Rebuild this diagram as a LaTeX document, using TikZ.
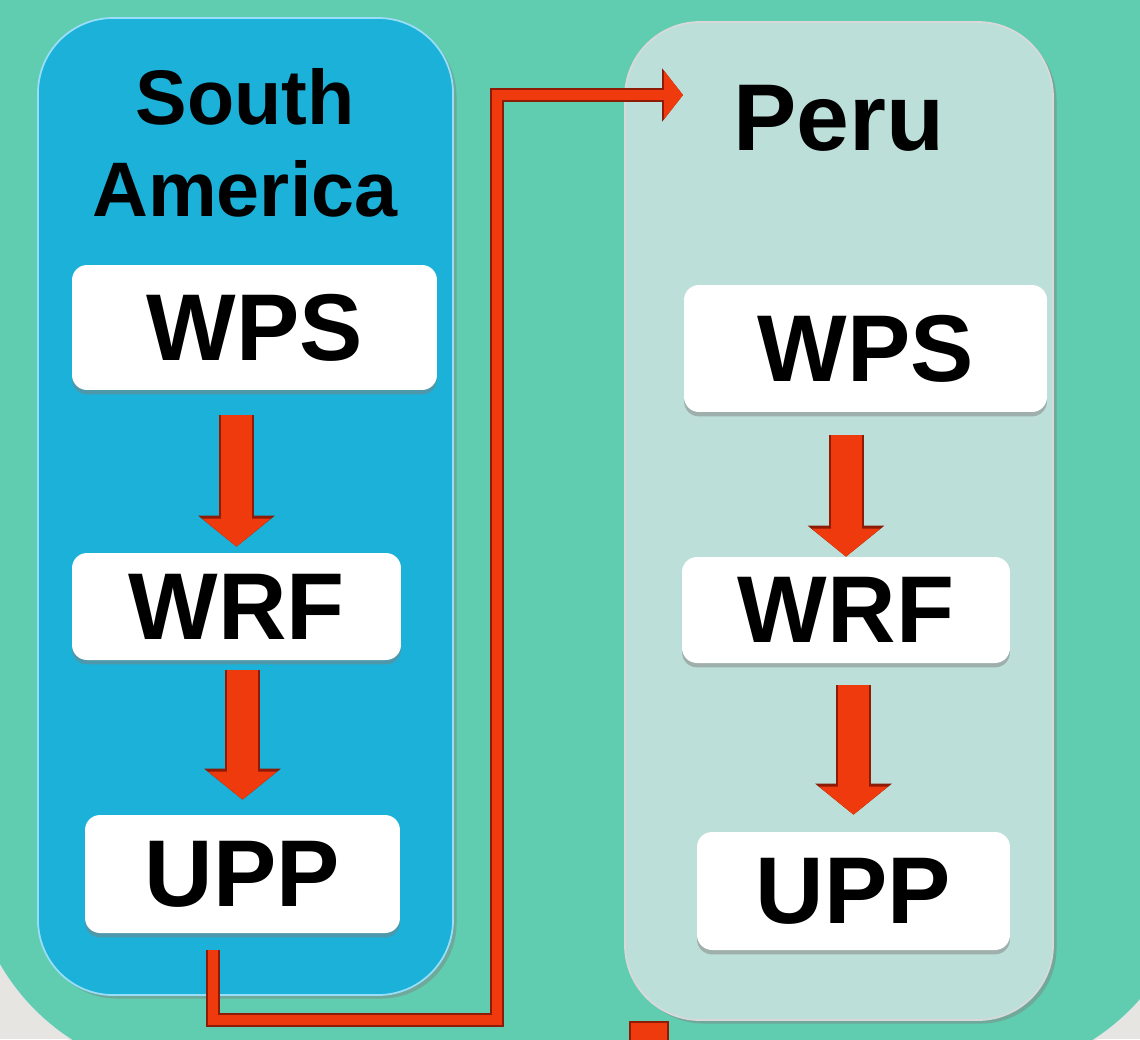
\documentclass[tikz,border=0pt]{standalone}
\usepackage{fontspec}
\setmainfont{Liberation Sans}
\usepackage{tikz}
\usetikzlibrary{arrows.meta}
\usetikzlibrary{shadows}

\definecolor{fondo}{HTML}{60CCB0}
\definecolor{exterior}{HTML}{E7E5E2}
\definecolor{azulSA}{HTML}{1BB1D8}
\definecolor{verdePE}{HTML}{BDDFD9}
\definecolor{rojo}{HTML}{EE3A0C}
\definecolor{rojoOscuro}{HTML}{8E1B05}

\begin{document}
\begin{tikzpicture}[
    x=0.02cm, y=-0.02cm,
    >=Latex,
    % Estilo para los paneles de cada dominio
    Panel/.style={
        rounded corners=1.5cm,
        drop shadow={shadow xshift=2pt, shadow yshift=-2pt, opacity=0.45}
    },
    % Estilo para las cajas de los programas (blancas con sombra)
    Caja/.style={
        fill=white,
        rounded corners=0.3cm,
        inner sep=0pt,
        font=\fontsize{54}{60}\selectfont\bfseries,
        drop shadow={shadow xshift=0pt, shadow yshift=-2.5pt, opacity=0.5}
    },
    % Flechas gruesas rojas entre programas
    Flujo/.style={
        line width=0.62cm, draw=rojo,
        -{Triangle[width=1.34cm, length=0.56cm]},
        preaction={draw=rojoOscuro, line width=0.7cm,
            -{Triangle[width=1.5cm, length=0.62cm]}}
    },
    % Conector rojo entre los dominios
    Enlace/.style={
        line width=0.2cm, draw=rojo, line join=miter,
        -{Triangle[width=0.95cm, length=0.38cm]},
        preaction={draw=rojoOscuro, line width=0.27cm, line join=miter,
            -{Triangle[width=1.05cm, length=0.42cm]}}
    }
]

    % --- 1. FONDO ---
    \useasboundingbox (0,0) rectangle (1140,1039);
    \clip (0,0) rectangle (1140,1039);
    \fill[exterior] (0,0) rectangle (1140,1039);
    \fill[fondo, draw=white!80!gray, line width=1pt, rounded corners=4.4cm]
        (-30,-300) rectangle (1195,1075);
    \fill[fondo] (0,0) rectangle (1140,700);

    % --- 2. PANELES ---
    \fill[Panel, azulSA, draw=cyan!40!white, line width=1pt] (38,18) rectangle (453,995);
    \fill[Panel, verdePE, draw=white!70!gray, line width=1pt] (625,22) rectangle (1053,1020);

    % Titulos
    \node[align=center, font=\fontsize{44}{52}\selectfont\bfseries] (saTitulo) at (245,143) {South\\America};
    \node[font=\fontsize{54}{60}\selectfont\bfseries] (peTitulo) at (839,118) {Peru};

    % --- 3. PROGRAMAS ---
    % South America
    \node[Caja, minimum width=7.3cm, minimum height=2.5cm] (saWPS) at (254.5,327.5) {WPS};
    \node[Caja, minimum width=6.58cm, minimum height=2.14cm] (saWRF) at (236.5,606.5) {WRF};
    \node[Caja, minimum width=6.3cm, minimum height=2.36cm] (saUPP) at (242.5,874) {UPP};

    % Peru
    \node[Caja, minimum width=7.26cm, minimum height=2.54cm] (peWPS) at (865.5,348.5) {WPS};
    \node[Caja, minimum width=6.56cm, minimum height=2.12cm] (peWRF) at (846,610) {WRF};
    \node[Caja, minimum width=6.26cm, minimum height=2.36cm] (peUPP) at (853.5,891) {UPP};

    % --- 4. FLECHAS ---
    \draw[Flujo, shorten <=0.5cm, shorten >=0.12cm] (saWRF.north |- saWPS.south) -- (saWRF.north);
    \draw[Flujo, shorten <=0.2cm, shorten >=0.3cm] (saUPP.north |- saWRF.south) -- (saUPP.north);
    \draw[Flujo, shorten <=0.46cm] (peWRF.north |- peWPS.south) -- (peWRF.north);
    \draw[Flujo, shorten <=0.44cm, shorten >=0.34cm] (peUPP.north |- peWRF.south) -- (peUPP.north);

    % Enlace de South America hacia Peru
    \coordinate (enlaceIni) at (213,950);
    \coordinate (enlaceGiro) at (497,1020);
    \coordinate (enlaceFin) at (683,95);
    \draw[Enlace] (enlaceIni) |- (enlaceGiro) |- (enlaceFin);

    % Inicio de la flecha siguiente (cortada abajo)
    \fill[rojo, draw=rojoOscuro, line width=1.5pt] (630,1022) rectangle (668,1060);

\end{tikzpicture}
\end{document}
